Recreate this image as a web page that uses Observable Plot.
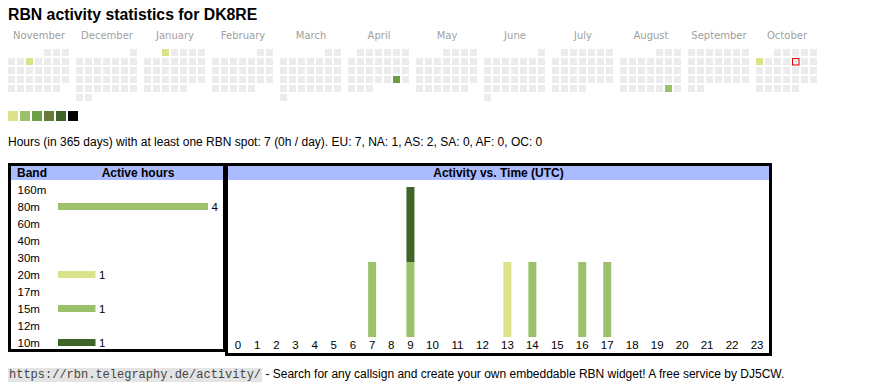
<!DOCTYPE html>
<html>
<head>
<meta charset="utf-8">
<script src="https://cdn.jsdelivr.net/npm/d3@7"></script>
<script src="https://cdn.jsdelivr.net/npm/@observablehq/plot@0.6"></script>
<style>
  html, body { margin: 0; padding: 0; background: #fff; }
  body { font-family: "Liberation Sans", Arial, sans-serif; color: #000; }
  #page { position: relative; width: 870px; height: 390px; overflow: hidden; }
  .abs { position: absolute; }
  #title { left: 8px; top: 6px; font-size: 15.8px; line-height: 18px; font-weight: bold; white-space: nowrap; }
  #stats { left: 8px; top: 135px; font-size: 12px; line-height: 14px; white-space: nowrap; }
  .box { box-sizing: border-box; border: 3px solid #000; }
  .hdr { background: #aabbff; height: 14px; line-height: 14px; font-size: 12px; font-weight: bold; }
  #footer { left: 8px; top: 367px; font-size: 12px; line-height: 14px; white-space: nowrap; }
  #footer code { font-family: "Liberation Mono", monospace; font-size: 12px; background: #e4e4e4; color: #444; padding: 0 1px; }
  svg { overflow: visible; }
</style>
</head>
<body>
<div id="page">
  <div id="title" class="abs"></div>
  <div id="cal" class="abs" style="left:0;top:24px;"></div>
  <div id="legend" class="abs" style="left:0;top:108px;"></div>
  <div id="stats" class="abs"></div>
  <div class="abs box" style="left:8px;top:163px;width:218px;height:189px;"></div>
  <div class="abs box" style="left:225px;top:163px;width:547px;height:193px;"></div>
  <div class="abs hdr" style="left:11px;top:166px;width:212px;">
    <span class="abs" style="left:6px;top:0;">Band</span>
    <span class="abs" style="left:127px;top:0;transform:translateX(-50%);white-space:nowrap;">Active hours</span>
  </div>
  <div class="abs hdr" style="left:228px;top:166px;width:541px;text-align:center;">Activity vs. Time (UTC)</div>
  <div id="bands" class="abs" style="left:11px;top:180px;"></div>
  <div id="activity" class="abs" style="left:228px;top:180px;"></div>
  <div id="footer" class="abs"><code>https://rbn.telegraphy.de/activity/</code> - Search for any callsign and create your own embeddable RBN widget! A free service by DJ5CW.</div>
</div>
<script>
// ---------------- data ----------------
const titleText = "RBN activity statistics for DK8RE";
const statsText = "Hours (in 365 days) with at least one RBN spot: 7 (0h / day). EU: 7, NA: 1, AS: 2, SA: 0, AF: 0, OC: 0";

const monthNames = ["November", "December", "January", "February", "March", "April", "May", "June", "July", "August", "September", "October"];
const calendarStart = "2024-11-01";
const calendarEnd = "2025-10-31";
const todayDate = "2025-10-10";

const activeDates = ["2024-11-06", "2025-01-01", "2025-04-26", "2025-08-30", "2025-10-06"];
const activeLevels = [1, 1, 3, 2, 1];

const legendLevels = [1, 2, 3, 4, 5, 6];

const bands = ["160m", "80m", "60m", "40m", "30m", "20m", "17m", "15m", "12m", "10m"];
const bandHours = [0, 4, 0, 0, 0, 1, 0, 1, 0, 1];

const hourLabels = ["0","1","2","3","4","5","6","7","8","9","10","11","12","13","14","15","16","17","18","19","20","21","22","23"];
const activityHour = [7, 9, 9, 13, 14, 16, 17];
const activityBand = ["80m", "15m", "10m", "20m", "80m", "80m", "80m"];
const activityCount = [1, 1, 1, 1, 1, 1, 1];

// ---------------- styles ----------------
const levelColors = ["#dbe38a", "#9dc06b", "#6a9f45", "#687a3a", "#3e6428", "#000000"];
const emptyColor = "#ececec";
const bandColor = {"160m": "#9dc06b", "80m": "#9dc06b", "60m": "#9dc06b", "40m": "#9dc06b", "30m": "#9dc06b",
                   "20m": "#dbe38a", "17m": "#9dc06b", "15m": "#9dc06b", "12m": "#9dc06b", "10m": "#3e6428"};
const svgStyle = {background: "transparent", overflow: "visible", fontFamily: "Liberation Sans, Arial, sans-serif", fontSize: "11px", color: "#000"};

document.getElementById("title").textContent = titleText;
document.getElementById("stats").textContent = statsText;

// ---------------- calendar ----------------
const parse = d3.timeParse("%Y-%m-%d");
const fmt = d3.timeFormat("%Y-%m-%d");
const start = parse(calendarStart), end = parse(calendarEnd);
const levelByDate = new Map(activeDates.map((d, i) => [d, activeLevels[i]]));
const days = d3.timeDay.range(start, d3.timeDay.offset(end, 1)).map(d => {
  const m = d3.timeMonth.count(start, d);
  const first = d3.timeMonth.floor(d);
  const firstDow = (first.getDay() + 6) % 7;
  const dow = (d.getDay() + 6) % 7;
  const row = Math.floor((d.getDate() - 1 + firstDow) / 7);
  const key = fmt(d);
  return {key, m, dow, row, level: levelByDate.get(key) || 0};
});
const monthStep = 7 + 5 / 9; // week columns per month + gap
const col = d => d.m * monthStep + d.dow;

const cal = Plot.plot({
  width: 830, height: 80,
  marginTop: 25, marginBottom: 1, marginLeft: 8, marginRight: 6,
  x: {domain: [0, monthNames.length * monthStep], range: [8, 8 + monthNames.length * monthStep * 9], axis: null},
  y: {domain: [0, 6], range: [25, 79], axis: null},
  color: {type: "identity"},
  style: svgStyle,
  marks: [
    Plot.rect(days, {
      x1: col, x2: d => col(d) + 1, y1: "row", y2: d => d.row + 1,
      insetRight: 2, insetBottom: 2,
      fill: d => d.level ? levelColors[d.level - 1] : emptyColor
    }),
    Plot.rect(days.filter(d => d.key === todayDate), {
      x1: col, x2: d => col(d) + 1, y1: "row", y2: d => d.row + 1,
      insetRight: 2, insetBottom: 2, insetLeft: 0.5, insetTop: 0.5,
      fill: "none", stroke: "#e00000", strokeWidth: 1
    }),
    Plot.text(monthNames, {
      x: (d, i) => i * monthStep + (7 - 2 / 9) / 2,
      frameAnchor: "top", lineAnchor: "middle", dy: -14,
      text: d => d, fill: "#a0a0a0", fontSize: 10, fontFamily: "DejaVu Sans"
    })
  ]
});
document.getElementById("cal").append(cal);

// ---------------- legend ----------------
const legend = Plot.plot({
  width: 90, height: 16, marginTop: 3, marginBottom: 3, marginLeft: 8, marginRight: 12,
  x: {domain: legendLevels, range: [8, 78], paddingInner: 2 / 12, paddingOuter: 0, axis: null},
  color: {type: "identity"},
  style: svgStyle,
  marks: [Plot.cell(legendLevels, {x: d => d, fill: d => levelColors[d - 1]})]
});
document.getElementById("legend").append(legend);

// ---------------- band table ----------------
const bandRows = bands.map((b, i) => ({band: b, hours: bandHours[i]}));
const bandPlot = Plot.plot({
  width: 212, height: 172, marginLeft: 6, marginRight: 0, marginTop: 1, marginBottom: 1,
  x: {domain: [0, d3.max(bandHours)], range: [47, 197], axis: null},
  y: {domain: bands, range: [1, 171], padding: 0, axis: null},
  color: {type: "identity"},
  style: svgStyle,
  marks: [
    Plot.barX(bandRows.filter(d => d.hours > 0), {x: "hours", y: "band", fill: d => bandColor[d.band], insetTop: 5, insetBottom: 5}),
    Plot.text(bands, {y: d => d, text: d => d, frameAnchor: "left", lineAnchor: "middle", textAnchor: "start", fontSize: 11.5}),
    Plot.text(bandRows.filter(d => d.hours > 0), {x: "hours", y: "band", text: d => String(d.hours), textAnchor: "start", dx: 3, fontSize: 11.5})
  ]
});
document.getElementById("bands").append(bandPlot);

// ---------------- activity vs time ----------------
// table-like columns: width grows with the label length
const colPad = 13.3, digitW = 5.8;
const colW = hourLabels.map(l => colPad + l.length * digitW);
const colStart = d3.cumsum([0, ...colW]);
const colCenter = colW.map((w, i) => colStart[i] + w / 2);
const totalW = colStart[colW.length];
const activity = activityHour.map((h, i) => ({hour: h, band: activityBand[i], count: activityCount[i]}));

const actPlot = Plot.plot({
  width: 541, height: 172, marginLeft: 0, marginRight: 0, marginTop: 7, marginBottom: 15,
  x: {domain: [0, totalW], axis: null},
  y: {domain: [0, d3.max(d3.rollup(activity, v => d3.sum(v, d => d.count), d => d.hour).values())], axis: null},
  color: {type: "identity"},
  style: svgStyle,
  marks: [
    Plot.ruleX(activity, Plot.stackY({
      x: d => colCenter[d.hour], y: "count",
      stroke: d => bandColor[d.band], strokeWidth: 8
    })),
    Plot.text(hourLabels, {x: (d, i) => colCenter[i], text: d => d, frameAnchor: "bottom", lineAnchor: "middle", dy: 8, fontSize: 11.5})
  ]
});
document.getElementById("activity").append(actPlot);
</script>
</body>
</html>
